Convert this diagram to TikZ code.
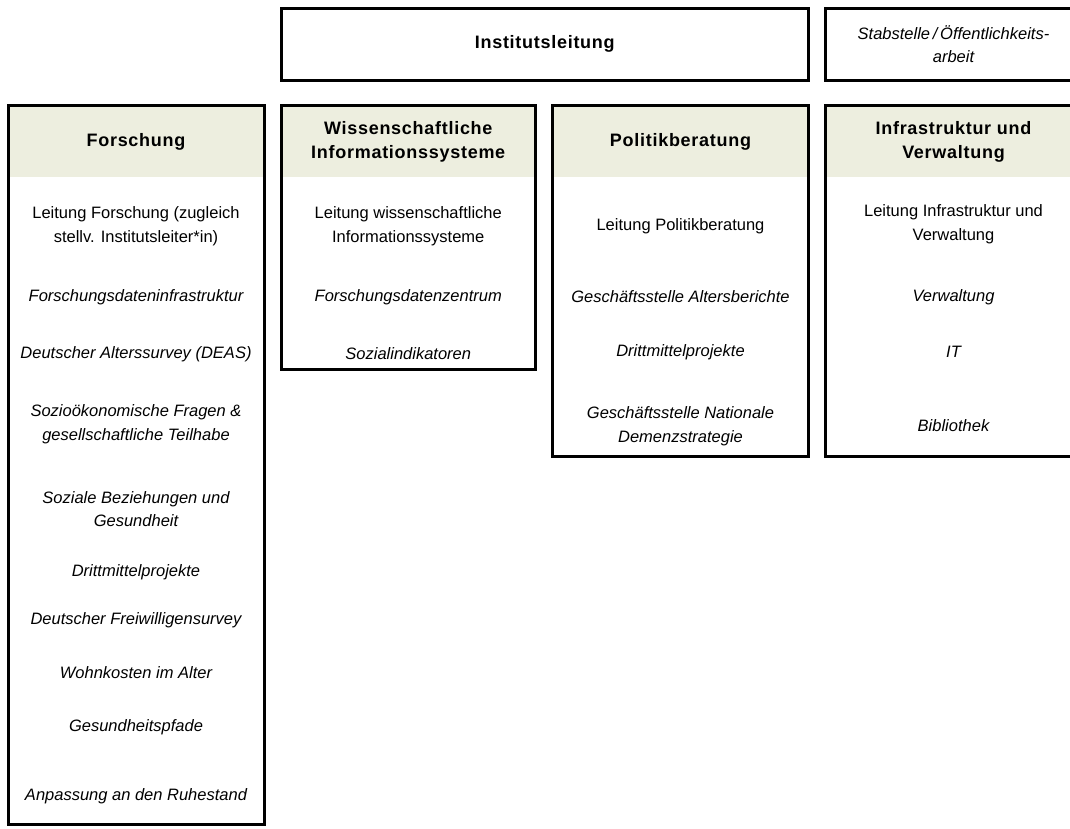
\documentclass[tikz,border=0pt]{standalone}
\usepackage{fontspec}
\setmainfont{Liberation Sans}
\definecolor{headbeige}{HTML}{EDEEDF}

\begin{document}
\begin{tikzpicture}[x=1pt, y=-1pt,
  box/.style={draw, line width=3pt, minimum width=256pt, inner sep=0pt},
  headband/.style={fill=headbeige, minimum width=256pt, minimum height=71.5pt, inner sep=0pt},
  headtext/.style={align=center, font={\fontsize{18}{24}\selectfont\bfseries\addfontfeature{LetterSpace=4}}},
  lead/.style={align=center, font={\fontsize{16.5}{23.5}\selectfont}},
  unit/.style={align=center, font={\fontsize{16.5}{23.5}\selectfont\itshape}},
]

\fill [white] (0,0) rectangle (1070,828);
\useasboundingbox (0,0) rectangle (1070,828);

\node (Lbox) [box, minimum width=527.5pt, minimum height=72.5pt] at (544.75, 44.25) {};
\node (Ltext) [headtext] at (Lbox.center) {Institutsleitung};

\node (Sbox) [box, minimum height=72.5pt] at (953.5, 44.25) {};
\node (Stext) [unit] at (Sbox.center) {Stabstelle\,/\,Öffentlichkeits-\\arbeit};

\begin{scope}[shift={(136,0)}]

\node (Fband) [headband] at (0, 141.25) {};
\node (Fbox) [box, minimum height=718.5pt] at (0, 464.75) {};
\node (Fhead) [headtext] at (0, 142) {Forschung};
\node (Flead) [lead] at (0, 226) {Leitung Forschung (zugleich\\stellv. Institutsleiter*in)};

\foreach \y/\txt [count=\i] in {297/{Forschungsdateninfrastruktur}, 354/{Deutscher Alterssurvey (DEAS)},
  424/{Sozioökonomische Fragen \&\\gesellschaftliche Teilhabe}, 509/{Soziale Beziehungen und\\Gesundheit},
  572/{Drittmittelprojekte}, 620/{Deutscher Freiwilligensurvey}, 673/{Wohnkosten im Alter},
  727/{Gesundheitspfade}, 796/{Anpassung an den Ruhestand}}
{
  \node (F\i) [unit] at (0, \y) {\txt};
}

\end{scope}

\begin{scope}[shift={(408.25,0)}]

\node (Wband) [headband, minimum width=254.5pt] at (0, 141.25) {};
\node (Wbox) [box, minimum width=254.5pt, minimum height=263.5pt] at (0, 237.25) {};
\node (Whead) [headtext] at (0, 142) {Wissenschaftliche\\Informationssysteme};
\node (Wlead) [lead] at (0, 226) {Leitung wissenschaftliche\\Informationssysteme};

\foreach \y/\txt [count=\i] in {297/{Forschungsdatenzentrum}, 354/{Sozialindikatoren}}
{
  \node (W\i) [unit] at (0, \y) {\txt};
}

\end{scope}

\begin{scope}[shift={(680.5,0)}]

\node (Pband) [headband] at (0, 141.25) {};
\node (Pbox) [box, minimum height=350.5pt] at (0, 280.75) {};
\node (Phead) [headtext] at (0, 142) {Politikberatung};
\node (Plead) [lead] at (0, 226) {Leitung Politikberatung};

\foreach \y/\txt [count=\i] in {297/{Geschäftsstelle Altersberichte}, 352/{Drittmittelprojekte},
  426/{Geschäftsstelle Nationale\\Demenzstrategie}}
{
  \node (P\i) [unit] at (0, \y) {\txt};
}

\end{scope}

\begin{scope}[shift={(953.5,0)}]

\node (Iband) [headband] at (0, 141.25) {};
\node (Ibox) [box, minimum height=350.5pt] at (0, 280.75) {};
\node (Ihead) [headtext] at (0, 142) {Infrastruktur und\\Verwaltung};
\node (Ilead) [lead] at (0, 224) {Leitung Infrastruktur und\\Verwaltung};

\foreach \y/\txt [count=\i] in {297/{Verwaltung}, 352/{IT}, 426/{Bibliothek}}
{
  \node (I\i) [unit] at (0, \y) {\txt};
}

\end{scope}
\end{tikzpicture}
\end{document}
